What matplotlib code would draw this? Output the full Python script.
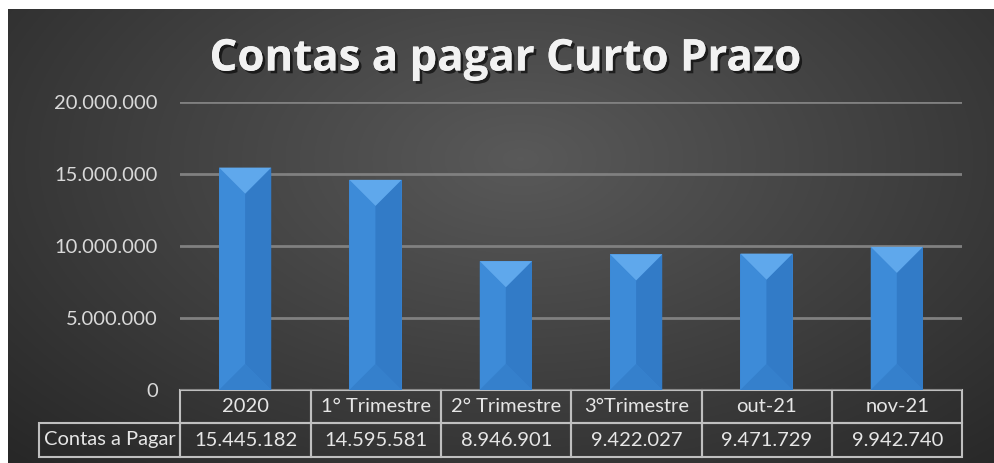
import numpy as np
import matplotlib.pyplot as plt
import matplotlib.patheffects as pe
from matplotlib.patches import Polygon

plt.rcParams['font.family'] = ['Lato', 'DejaVu Sans']

# ----- Data -----
categories = ['2020', '1° Trimestre', '2° Trimestre', '3°Trimestre', 'out-21', 'nov-21']
values = [15445182, 14595581, 8946901, 9422027, 9471729, 9942740]
row_label = 'Contas a Pagar'
yticks = [0, 5000000, 10000000, 15000000, 20000000]


def fmt(v):
    return f'{v:,}'.replace(',', '.')


W, H = 994, 463
fig = plt.figure(figsize=(W / 100, H / 100), dpi=100)
fig.patch.set_facecolor('white')

# ----- radial gradient background -----
bg = fig.add_axes([8 / W, 0, (W - 8) / W, (H - 9) / H])
yy, xx = np.mgrid[0:1:300j, 0:1:600j]
r = np.sqrt(((xx - 0.52) / 0.75) ** 2 + ((yy - 0.33) / 0.95) ** 2)
shade = 0.35 - 0.20 * np.clip(r, 0, 1)
bg.imshow(np.dstack([shade] * 3), aspect='auto', extent=[0, 1, 0, 1], origin='upper')
bg.set_axis_off()

# ----- main axes -----
ax = fig.add_axes([180 / W, (H - 390) / H, 782 / W, 288 / H])
ax.patch.set_alpha(0)
ax.set_xlim(-0.5, len(categories) - 0.5)
ax.set_ylim(0, 20000000)
ax.set_yticks(yticks)
ax.set_yticklabels([fmt(t) for t in yticks], color='#d9d9d9', fontsize=14.5)
ax.tick_params(axis='y', length=0, pad=16)
ax.set_xticks([])
for s in ax.spines.values():
    s.set_visible(False)
ax.yaxis.grid(True, color='#808080', linewidth=2)
ax.set_axisbelow(True)

x = np.arange(len(categories))
bw = 0.4
ax.bar(x, values, width=bw, color='#3a86d4', zorder=2)

# bevel facets
p0 = ax.transData.transform((0, 0))
p1 = ax.transData.transform((bw / 2, 1))
depth = (p1[0] - p0[0]) / (p1[1] - p0[1])  # half bar width in y units
for xi, v in zip(x, values):
    x0, x1 = xi - bw / 2, xi + bw / 2
    facets = [
        ([(x0, v), (xi, v - depth), (xi, depth), (x0, 0)], '#3d8bd8'),
        ([(x1, v), (xi, v - depth), (xi, depth), (x1, 0)], '#327bc7'),
        ([(x0, v), (x1, v), (xi, v - depth)], '#5fa8ec'),
        ([(x0, 0), (x1, 0), (xi, depth)], '#3580cc'),
    ]
    for pts, c in facets:
        ax.add_patch(Polygon(pts, closed=True, facecolor=c, edgecolor='none', zorder=3))

# ----- data table -----
tbl_h = 67 / 288
tbl = ax.table(cellText=[[fmt(v) for v in values]], rowLabels=[row_label],
               colLabels=categories, cellLoc='center', rowLoc='center',
               bbox=[0, -tbl_h, 1, tbl_h])
tbl._autoColumns = [c for c in tbl._autoColumns if c != -1]  # keep fixed label width
tbl.auto_set_font_size(False)
tbl.set_fontsize(14.5)
for (row, col), cell in tbl.get_celld().items():
    cell.set_facecolor('none')
    cell.set_edgecolor('#bfbfbf')
    cell.set_linewidth(1.5)
    cell.get_text().set_color('#e6e6e6')
    cell.set_width((141 if col == -1 else 130) / 782)
    cell.set_height((33 if row == 0 else 34) / 288)

# ----- title -----
fig.text(0.508, 1 - 59 / H, 'Contas a pagar Curto Prazo', ha='center', va='center',
         fontsize=31.5, fontweight='bold', color='#f2f2f2', family=['Open Sans', 'DejaVu Sans'],
         path_effects=[pe.withSimplePatchShadow(offset=(2, -2), shadow_rgbFace='black', alpha=0.6),
                       pe.Normal()])

fig.savefig('out.png', dpi=100)
